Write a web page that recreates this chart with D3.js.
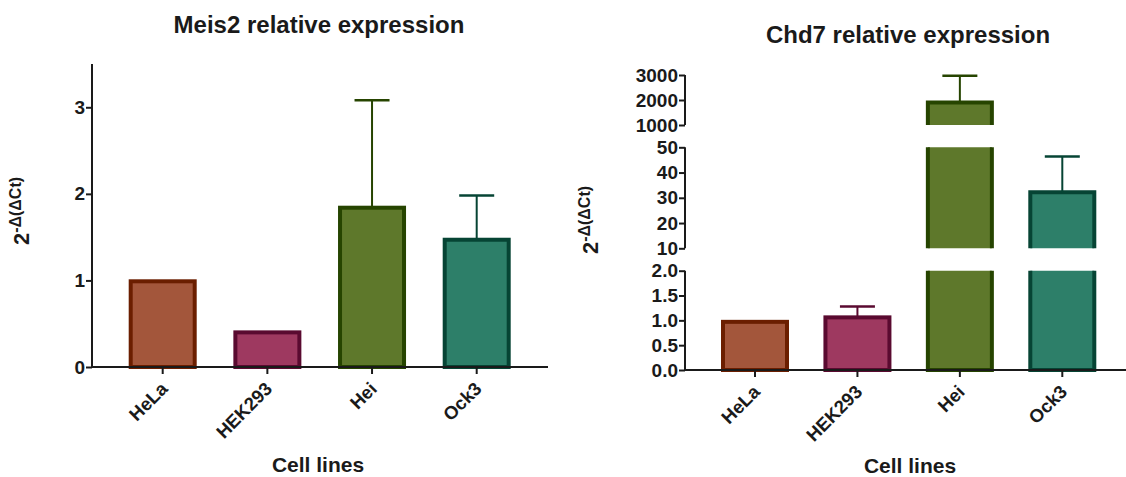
<!DOCTYPE html>
<html>
<head>
<meta charset="utf-8">
<script src="https://cdn.jsdelivr.net/npm/d3@7"></script>
<style>
  body { margin: 0; background: #fff; }
  text { font-family: "Liberation Sans", Arial, sans-serif; font-weight: bold; fill: #1a1a1a; }
</style>
</head>
<body>
<svg id="chart" width="1126" height="477"></svg>
<script>
// data
var cells = ['HeLa', 'HEK293', 'Hei', 'Ock3'];
var meis2 = [0.99, 0.40, 1.84, 1.47];
var meis2Err = [0, 0, 3.08, 1.98];
var chd7 = [0.97, 1.06, 1900, 32.2];
var chd7Err = [0, 1.28, 2970, 46.4];
var meis2Ticks = [0, 1, 2, 3];
var chd7Segs = [
  {dom: [0, 2], ticks: [0, 0.5, 1.0, 1.5, 2.0], fmt: '.1f'},
  {dom: [10, 50], ticks: [10, 20, 30, 40, 50], fmt: 'd'},
  {dom: [1000, 3000], ticks: [1000, 2000, 3000], fmt: 'd'}
];

var fills = ['#A3563B', '#9E3960', '#5E782B', '#2D7F69'];
var strokes = ['#6B1E00', '#5A0A30', '#264400', '#064434'];

var svg = d3.select('#chart');
var barW = 64;
var capW = 35;
var axisColor = '#1a1a1a';

function yLabel(g, x, y) {
  var t = g.append('text')
    .attr('transform', 'translate(' + x + ',' + y + ') rotate(-90)')
    .attr('text-anchor', 'middle')
    .style('font-size', '22px');
  t.append('tspan').text('2');
  t.append('tspan').attr('dy', '-0.5em').style('font-size', '16px').text('-\u0394(\u0394Ct)');
}

function xAxis(g, x, axisY, x0, x1) {
  g.append('line').attr('x1', x0).attr('x2', x1).attr('y1', axisY).attr('y2', axisY)
    .attr('stroke', axisColor).attr('stroke-width', 2);
  cells.forEach(function(c) {
    g.append('line').attr('x1', x(c)).attr('x2', x(c)).attr('y1', axisY).attr('y2', axisY + 7)
      .attr('stroke', axisColor).attr('stroke-width', 2);
    g.append('text')
      .attr('transform', 'translate(' + (x(c) + 6) + ',' + (axisY + 23) + ') rotate(-45)')
      .attr('text-anchor', 'end')
      .style('font-size', '18.5px')
      .text(c);
  });
}

function bar(g, x, y, i, v, e) {
  var cx = x(cells[i]);
  if (e > v) {
    g.append('line').attr('x1', cx).attr('x2', cx).attr('y1', y(v)).attr('y2', y(e))
      .attr('stroke', strokes[i]).attr('stroke-width', 2);
    g.append('line').attr('x1', cx - capW / 2).attr('x2', cx + capW / 2).attr('y1', y(e)).attr('y2', y(e))
      .attr('stroke', strokes[i]).attr('stroke-width', 2.5);
  }
}

// ---------- left chart: Meis2 ----------
var L = svg.append('g');
var xL = d3.scalePoint().domain(cells).range([162.7, 476.7]);
var yL = d3.scaleLinear().domain([0, 3.5]).range([367, 64]);

L.append('text').attr('x', 319).attr('y', 33).attr('text-anchor', 'middle')
  .style('font-size', '24px').text('Meis2 relative expression');

meis2.forEach(function(v, i) {
  var cx = xL(cells[i]);
  bar(L, xL, yL, i, v, meis2Err[i]);
  L.append('rect').attr('x', cx - barW / 2).attr('width', barW)
    .attr('y', yL(v)).attr('height', yL(0) - yL(v))
    .attr('fill', fills[i]).attr('stroke', strokes[i]).attr('stroke-width', 4);
});

var yAxL = L.append('g').attr('transform', 'translate(92,0)')
  .call(d3.axisLeft(yL).tickValues(meis2Ticks).tickSize(6).tickPadding(1).tickFormat(d3.format('d')));
yAxL.select('.domain').attr('stroke', axisColor).attr('stroke-width', 2).attr('d', 'M0,' + yL(3.5) + 'V' + yL(0));
yAxL.selectAll('.tick line').attr('stroke', axisColor).attr('stroke-width', 2);
yAxL.selectAll('.tick text').style('font-size', '19px').attr('fill', '#1a1a1a').style('font-family', null);

xAxis(L, xL, 367, 91, 548);
yLabel(L, 29, 211);
L.append('text').attr('x', 318).attr('y', 472).attr('text-anchor', 'middle')
  .style('font-size', '21px').text('Cell lines');

// ---------- right chart: Chd7 (broken axis) ----------
var R = svg.append('g');
var xR = d3.scalePoint().domain(cells).range([755, 1062.3]);
var segRanges = [[370, 270.7], [248.3, 147.3], [125, 75]];
chd7Segs.forEach(function(s, k) {
  s.y = d3.scaleLinear().domain(s.dom).range(segRanges[k]);
});

R.append('text').attr('x', 908).attr('y', 43).attr('text-anchor', 'middle')
  .style('font-size', '24px').text('Chd7 relative expression');

var defs = svg.append('defs');
chd7Segs.forEach(function(s, k) {
  var top = s.y(s.dom[1]), bot = s.y(s.dom[0]);
  defs.append('clipPath').attr('id', 'seg' + k).append('rect')
    .attr('x', 686).attr('width', 440).attr('y', top).attr('height', bot - top + (k === 0 ? 6 : 0));
  var gs = R.append('g').attr('clip-path', 'url(#seg' + k + ')');
  chd7.forEach(function(v, i) {
    if (v <= s.dom[0] && k > 0) return;
    var cx = xR(cells[i]);
    var yTop = s.y(Math.min(v, s.dom[1] + (s.dom[1] - s.dom[0])));
    var yBot = k === 0 ? s.y(0) : bot + 10;
    gs.append('rect').attr('x', cx - barW / 2).attr('width', barW)
      .attr('y', yTop).attr('height', yBot - yTop)
      .attr('fill', fills[i]).attr('stroke', strokes[i]).attr('stroke-width', 4);
  });
  // error bars within the segment that holds the mean
  chd7.forEach(function(v, i) {
    if (v > s.dom[0] && v <= s.dom[1] || (k === 0 && v <= s.dom[1])) {
      bar(R, xR, s.y, i, v, chd7Err[i]);
    }
  });
  var ax = R.append('g').attr('transform', 'translate(685,0)')
    .call(d3.axisLeft(s.y).tickValues(s.ticks).tickSize(6).tickPadding(1).tickFormat(d3.format(s.fmt)));
  ax.select('.domain').attr('stroke', axisColor).attr('stroke-width', 2).attr('d', 'M0,' + top + 'V' + bot);
  ax.selectAll('.tick line').attr('stroke', axisColor).attr('stroke-width', 2);
  ax.selectAll('.tick text').style('font-size', '19px').attr('fill', '#1a1a1a').style('font-family', null);
});

xAxis(R, xR, 370, 684, 1126);
yLabel(R, 598, 220);
R.append('text').attr('x', 910).attr('y', 473).attr('text-anchor', 'middle')
  .style('font-size', '21px').text('Cell lines');
</script>
</body>
</html>
